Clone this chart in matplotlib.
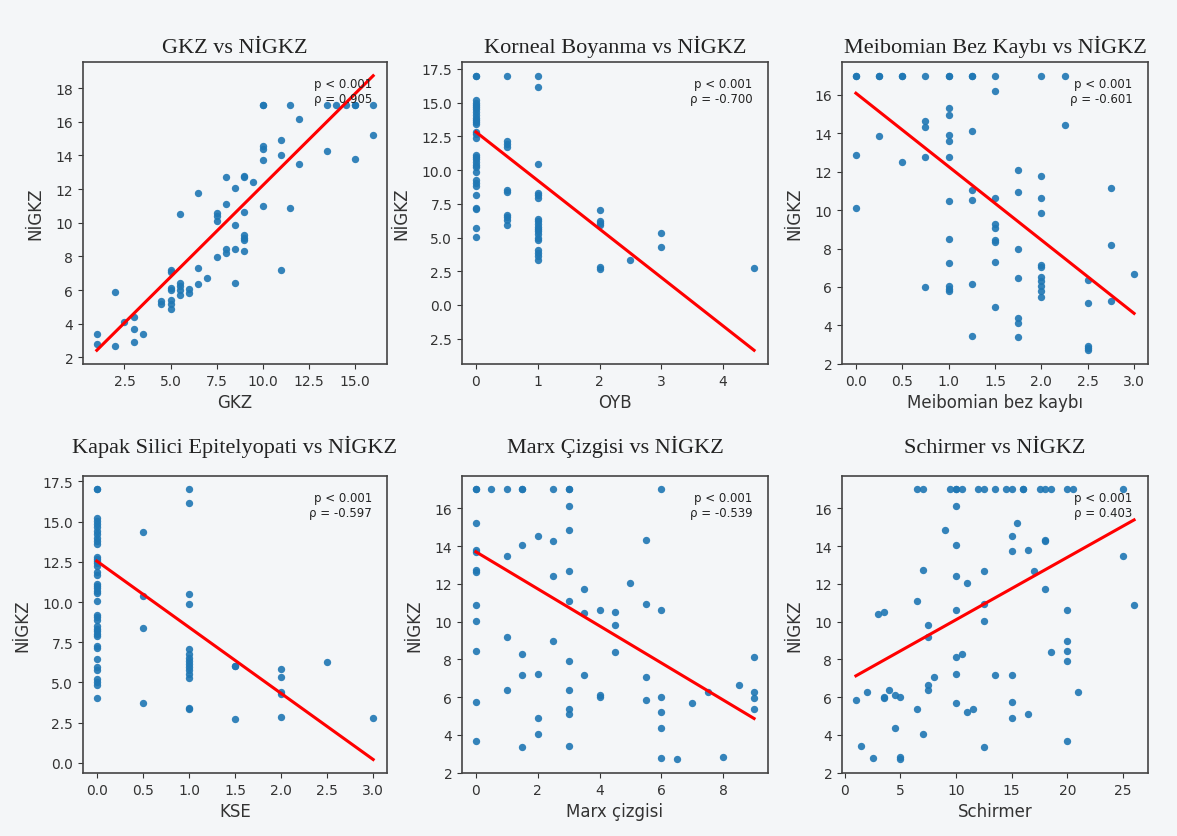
import numpy as np
import matplotlib.pyplot as plt
from matplotlib.ticker import FuncFormatter

# --- data ---
# GKZ vs NIGKZ
gkz_x = [1, 1, 2, 2, 2.5, 3, 3, 3, 3.5, 4.5, 4.5,
         5, 5, 5, 5, 5, 5, 5, 5.5, 5.5, 5.5, 5.5, 5.5, 6, 6,
         6.5, 6.5, 6.5, 7, 7.5, 7.5, 7.5, 7.5, 8, 8, 8, 8,
         8.5, 8.5, 8.5, 8.5, 9, 9, 9, 9, 9, 9, 9, 9.5,
         10, 10, 10, 10, 10, 10, 11, 11, 11, 11.5, 11.5, 12, 12,
         13.5, 13.5, 14, 14.5, 15, 15, 15, 16, 16]
gkz_y = [3.4, 2.8, 5.9, 2.7, 4.1, 4.4, 3.7, 2.9, 3.4, 5.35, 5.2,
         7.2, 7.1, 6.15, 6.0, 5.4, 5.15, 4.9, 10.5, 6.4, 6.25, 6.0, 5.7, 6.05, 5.8,
         11.75, 7.3, 6.35, 6.7, 10.6, 10.4, 10.1, 7.95, 12.7, 11.1, 8.45, 8.2,
         12.05, 9.85, 8.45, 6.4, 12.75, 12.7, 10.65, 9.25, 9.1, 8.95, 8.3, 12.4,
         17, 17, 14.55, 14.4, 13.75, 11.0, 14.9, 14.05, 7.2, 17, 10.9, 16.15, 13.5,
         17, 14.25, 17, 17, 17, 17, 13.8, 17, 15.2]

# Korneal boyanma (OYB) vs NIGKZ
oyb_x = [0] * 31 + [0.5] * 10 + [1] * 19 + [2] * 6 + [2.5, 3, 3, 4.5]
oyb_y = [17, 17, 15.2, 15.0, 14.85, 14.65, 14.5, 14.3, 14.1, 13.9, 13.7, 13.55, 13.4,
         12.85, 12.7, 12.4, 11.15, 11.0, 10.8, 10.6, 10.4, 10.2, 9.85, 9.25, 9.05, 8.85,
         8.15, 7.2, 7.1, 5.7, 5.05,
         17, 12.15, 11.95, 11.7, 8.5, 8.35, 6.7, 6.5, 6.3, 5.95,
         17, 16.15, 10.45, 8.3, 8.15, 7.9, 6.4, 6.2, 6.0, 5.8, 5.65, 5.45, 5.25, 5.0, 4.8,
         4.05, 3.85, 3.6, 3.35,
         7.05, 6.25, 6.1, 5.9, 2.8, 2.7,
         3.35, 5.3, 4.3, 2.75]

# Meibomian bez kaybi vs NIGKZ
mbk_x = ([0] * 4 + [0.25] * 3 + [0.5] * 3 + [0.75] * 5 + [1.0] * 13 + [1.25] * 7
         + [1.5] * 9 + [1.75] * 7 + [2.0] * 11 + [2.25] * 2 + [2.5] * 5 + [2.75] * 3 + [3.0])
mbk_y = [17, 17, 12.85, 10.1,
         17, 17, 13.85,
         17, 17, 12.5,
         17, 14.65, 14.35, 12.75, 6.0,
         17, 17, 15.3, 14.95, 13.9, 13.6, 12.75, 10.45, 8.5, 7.25, 6.05, 5.9, 5.8,
         17, 17, 14.1, 11.05, 10.55, 6.15, 3.45,
         17, 16.2, 10.65, 9.3, 9.05, 8.45, 8.35, 7.3, 4.95,
         12.1, 10.95, 7.95, 6.45, 4.4, 4.1, 3.4,
         17, 11.8, 10.65, 9.85, 7.15, 7.05, 6.5, 6.3, 6.05, 5.8, 5.45,
         17, 14.45,
         6.35, 5.15, 2.9, 2.8, 2.7,
         11.15, 8.2, 5.25,
         6.65]

# KSE vs NIGKZ
kse_x = [0] * 41 + [0.5] * 4 + [1.0] * 15 + [1.5] * 3 + [2.0] * 5 + [2.5, 3.0]
kse_y = [17, 17, 15.25, 15.05, 14.85, 14.65, 14.45, 14.25, 14.0, 13.8, 13.6,
         12.8, 12.7, 12.55, 12.4, 12.25, 11.85, 11.7, 11.15, 11.0, 10.85, 10.7, 10.55,
         10.05, 9.2, 9.05, 8.9, 8.5, 8.35, 8.2, 8.0, 7.9, 7.25, 7.15, 6.45, 5.95, 5.8,
         5.2, 5.0, 4.85, 4.05,
         14.35, 10.4, 8.4, 3.7,
         17, 16.15, 10.5, 9.85, 7.1, 6.75, 6.55, 6.35, 6.15, 5.95, 5.75, 5.55, 5.3, 3.4, 3.35,
         6.05, 6.0, 2.7,
         5.85, 5.35, 4.4, 4.3, 2.85,
         6.25, 2.8]

# Marx cizgisi vs NIGKZ
marx_x = [0, 0, 0.5, 1, 1.5, 1.5, 2.5, 3, 3, 6,
          3, 0, 3, 2, 2.5, 1.5, 0, 0, 1, 5.5,
          0, 0, 2.5, 3, 5, 3.5, 3, 5.5, 0, 3.5,
          4, 4.5, 6, 0, 4.5, 1, 2.5, 0, 4.5, 1.5,
          3, 9, 1.5, 2, 3.5, 5.5, 8.5, 1, 3, 7.5,
          9, 4, 4, 6, 9, 0, 5.5, 7, 3, 3,
          6, 9, 2, 6, 2, 0, 1.5, 3, 6, 6.5, 8]
marx_y = [17, 17, 17, 17, 17, 17, 17, 17, 17, 17,
          16.1, 15.2, 14.85, 14.55, 14.25, 14.05, 13.8, 13.7, 13.5, 14.35,
          12.75, 12.65, 12.4, 12.7, 12.05, 11.75, 11.1, 10.95, 10.9, 10.45,
          10.6, 10.5, 10.6, 10.05, 9.8, 9.2, 8.95, 8.45, 8.4, 8.3,
          7.9, 8.15, 7.2, 7.25, 7.15, 7.05, 6.65, 6.4, 6.4, 6.3,
          6.25, 6.1, 6.0, 6.0, 5.95, 5.75, 5.85, 5.7, 5.35, 5.1,
          5.2, 5.35, 4.9, 4.35, 4.05, 3.7, 3.35, 3.4, 2.8, 2.7, 2.85]

# Schirmer vs NIGKZ
sch_x = [6.5, 7, 9.5, 10, 10, 10.5, 12, 12.5, 13.5, 14.5, 15, 16, 16, 17.5, 18, 18.5, 20, 20.5, 25,
         10, 9, 15.5, 15, 18, 18, 10, 15, 16.5, 25,
         7, 12.5, 17, 10, 11, 18, 6.5, 26, 12.5, 3,
         3.5, 10, 20, 12.5, 7.5, 7.5, 20, 20, 18.5, 10,
         10.5, 20, 10, 13.5, 15, 8, 7.5, 7.5, 4, 2,
         4.5, 5, 3.5, 3.5, 1, 21, 10, 15, 6.5, 11,
         11.5, 16.5, 15, 4.5, 7, 20, 1.5, 12.5, 2.5, 5, 5]
sch_y = [17] * 19 + [
         16.1, 14.85, 15.2, 14.55, 14.35, 14.25, 14.05, 13.75, 13.8, 13.5,
         12.75, 12.7, 12.7, 12.4, 12.05, 11.75, 11.1, 10.9, 10.95, 10.4,
         10.5, 10.6, 10.6, 10.05, 9.8, 9.2, 8.95, 8.45, 8.4, 8.15,
         8.3, 7.9, 7.25, 7.2, 7.15, 7.05, 6.65, 6.4, 6.4, 6.25,
         6.1, 6.0, 6.0, 5.95, 5.85, 6.3, 5.7, 5.75, 5.35, 5.2,
         5.35, 5.1, 4.9, 4.35, 4.05, 3.7, 3.4, 3.35, 2.8, 2.85, 2.7]

titles = ["GKZ vs NİGKZ", "Korneal Boyanma vs NİGKZ", "Meibomian Bez Kaybı vs NİGKZ",
          "Kapak Silici Epitelyopati vs NİGKZ", "Marx Çizgisi vs NİGKZ", "Schirmer vs NİGKZ"]
xlabels = ["GKZ", "OYB", "Meibomian bez kaybı", "KSE", "Marx çizgisi", "Schirmer"]
rho_values = ["0.905", "-0.700", "-0.601", "-0.597", "-0.539", "0.403"]
# regression line (intercept, slope) as drawn
fit_intercepts = [1.34, 12.83, 16.09, 12.55, 13.7, 6.8]
fit_slopes = [1.087, -3.598, -3.823, -4.113, -0.981, 0.3304]

xs = [gkz_x, oyb_x, mbk_x, kse_x, marx_x, sch_x]
ys = [gkz_y, oyb_y, mbk_y, kse_y, marx_y, sch_y]

bg = "#f4f6f8"
W, H = 1177, 837
fig = plt.figure(figsize=(W / 100, H / 100), dpi=100, facecolor=bg)

cols = [(83, 387), (462, 768), (842, 1148)]
rows = [(63, 365), (477, 774)]
title_pads = [7, 17]

for i in range(6):
    (l, r), (t, b) = cols[i % 3], rows[i // 3]
    ax = fig.add_axes([l / W, 1 - b / H, (r - l) / W, (b - t) / H])
    ax.set_facecolor(bg)
    x = np.array(xs[i], dtype=float)
    y = np.array(ys[i], dtype=float)
    ax.scatter(x, y, s=28, color="#1f77b4", alpha=0.9, linewidths=0, zorder=2)
    xl = np.array([x.min(), x.max()])
    ax.plot(xl, fit_intercepts[i] + fit_slopes[i] * xl, color="red", lw=2.2, zorder=3)
    ax.set_title(titles[i], fontsize=16, family="Liberation Serif",
                 pad=title_pads[i // 3], color="#222222")
    ax.set_xlabel(xlabels[i], fontsize=12, color="#333333")
    ax.set_ylabel("NİGKZ", fontsize=12, color="#333333", labelpad=8)
    ax.tick_params(labelsize=10, colors="#333333")
    for sp in ax.spines.values():
        sp.set_color("#444444")
        sp.set_linewidth(1.2)
    ax.text(0.95, 0.95, f"p < 0.001\nρ = {rho_values[i]}", transform=ax.transAxes,
            ha="right", va="top", multialignment="right", fontsize=8.5, color="#222222")
    if i == 1:
        # minus sign is missing on the reference's tick labels
        ax.yaxis.set_major_formatter(FuncFormatter(lambda v, p: f"{abs(v):.1f}"))

fig.savefig("out.png", dpi=100, facecolor=bg)
